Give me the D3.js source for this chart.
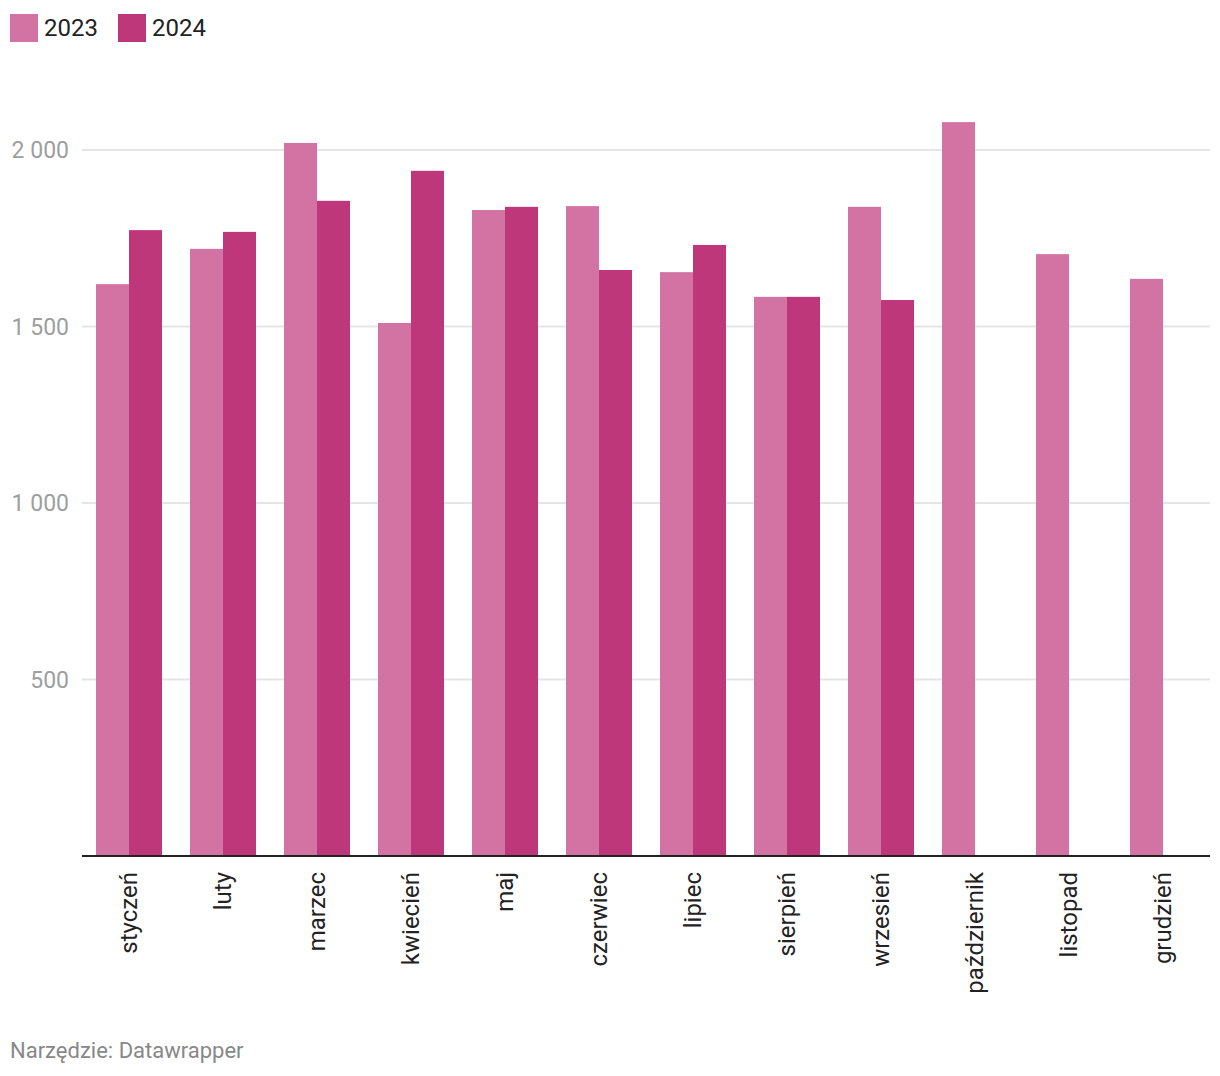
<!DOCTYPE html>
<html>
<head>
<meta charset="utf-8">
<script src="https://cdn.jsdelivr.net/npm/d3@7"></script>
<style>
  html, body { margin: 0; padding: 0; background: #fff; }
  svg { display: block; font-family: Roboto, sans-serif; }
</style>
</head>
<body>
<svg id="chart" width="1220" height="1076"></svg>
<script>
const months = ["styczeń","luty","marzec","kwiecień","maj","czerwiec","lipiec","sierpień","wrzesień","październik","listopad","grudzień"];
const seriesNames = ["2023","2024"];
const values2023 = [1620,1720,2020,1510,1830,1841,1654,1584,1839,2079,1705,1635];
const values2024 = [1773,1768,1856,1941,1839,1660,1731,1584,1575,null,null,null];
const yTicks = [500,1000,1500,2000];
const colors = ["#d373a4","#be377b"];
const sourceText = "Narzędzie: Datawrapper";

(function () {
const svg = d3.select("#chart");
const plotLeft = 82, plotRight = 1210, plotTop = 150, plotBottom = 856;

const x = d3.scaleBand().domain(months).range([plotLeft, plotRight]).paddingInner(0.2979).paddingOuter(0.149);
const x1 = d3.scaleBand().domain(seriesNames).range([0, x.bandwidth()]);
const y = d3.scaleLinear().domain([0, 2000]).range([plotBottom, plotTop]);

// gridlines + y labels
const yAxis = svg.append("g");
yAxis.selectAll("line").data(yTicks).join("line")
  .attr("x1", plotLeft).attr("x2", plotRight)
  .attr("y1", d => y(d)).attr("y2", d => y(d))
  .attr("stroke", "#e5e5e5").attr("stroke-width", 2);
yAxis.selectAll("text").data(yTicks).join("text")
  .attr("x", 69).attr("y", d => y(d)).attr("dy", "0.35em")
  .attr("text-anchor", "end")
  .attr("fill", "#9e9e9e").attr("font-size", 23)
  .text(d => d >= 1000 ? String(d).replace(/(\d)(\d{3})$/, "$1 $2") : String(d));

// bars
const data = months.map((m, i) => ({ month: m, vals: [values2023[i], values2024[i]] }));
const groups = svg.append("g").selectAll("g").data(data).join("g")
  .attr("transform", d => `translate(${x(d.month)},0)`);
groups.selectAll("rect")
  .data(d => d.vals.map((v, j) => ({ key: seriesNames[j], v, j })).filter(e => e.v != null))
  .join("rect")
  .attr("x", e => x1(e.key))
  .attr("width", x1.bandwidth())
  .attr("y", e => y(e.v))
  .attr("height", e => y(0) - y(e.v))
  .attr("fill", e => colors[e.j]);

// baseline axis
svg.append("line")
  .attr("x1", plotLeft).attr("x2", plotRight)
  .attr("y1", y(0)).attr("y2", y(0))
  .attr("stroke", "#222").attr("stroke-width", 2);

// x labels
svg.append("g").selectAll("text").data(months).join("text")
  .attr("transform", d => `translate(${x(d) + x.bandwidth() / 2},872) rotate(-90)`)
  .attr("text-anchor", "end")
  .attr("dy", "0.35em")
  .attr("fill", "#222").attr("font-size", 24)
  .text(d => d);

// legend
const legend = svg.append("g");
const legendX = [10, 118];
seriesNames.forEach((s, i) => {
  legend.append("rect").attr("x", legendX[i]).attr("y", 14).attr("width", 28).attr("height", 28).attr("fill", colors[i]);
  legend.append("text").attr("x", legendX[i] + 34).attr("y", 28).attr("dy", "0.35em")
    .attr("fill", "#222").attr("font-size", 24).text(s);
});

// source
svg.append("text").attr("x", 10).attr("y", 1058)
  .attr("fill", "#888").attr("font-size", 22).text(sourceText);
})();
</script>
</body>
</html>
